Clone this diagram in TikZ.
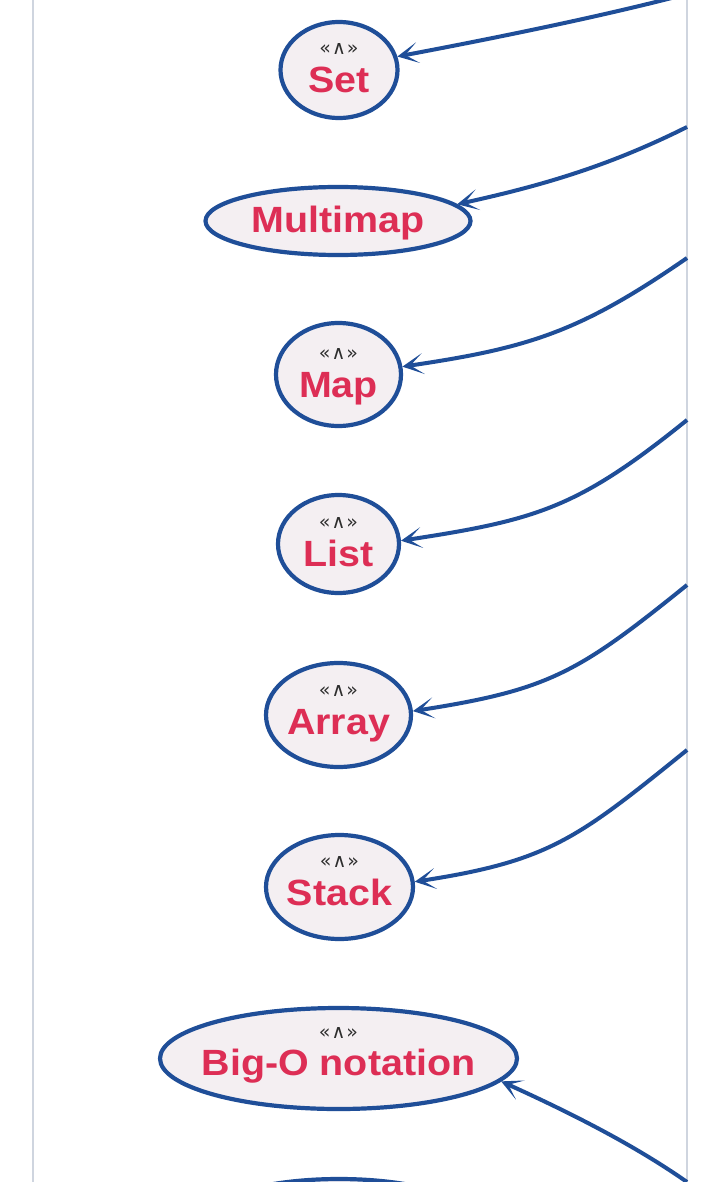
\documentclass[tikz,border=0pt]{standalone}
\usepackage{fontspec}
\setmainfont{Liberation Sans}
\newfontfamily\namefont[FakeStretch=1.08]{Liberation Sans}
\newfontfamily\dvsfont{DejaVu Sans}
\usetikzlibrary{arrows.meta,shapes.geometric,calc}
\definecolor{edgeblue}{HTML}{1F4E98}
\definecolor{nodefill}{HTML}{F4EFF2}
\definecolor{namered}{HTML}{DD2E55}
\definecolor{framegray}{HTML}{CFD5DF}
\definecolor{stereogray}{HTML}{2E2E2E}
\begin{document}
\begin{tikzpicture}[x=1pt,y=-1pt,
  cls/.style={ellipse, draw=edgeblue, line width=4.2pt, fill=nodefill, inner sep=0pt},
  stereo/.style={font=\dvsfont\fontsize{19}{19}\selectfont, text=stereogray, inner sep=0pt},
  cname/.style={font=\namefont\fontsize{36.5}{40}\selectfont\bfseries, text=namered, inner sep=0pt, anchor=base},
  rel/.style={draw=edgeblue, line width=4pt, -{Stealth[length=21pt,width=21pt,inset=13pt]}}]
\useasboundingbox (0,0) rectangle (720,1182);
\clip (0,0) rectangle (720,1182);
\fill[white] (0,0) rectangle (720,1182);
% frame
\draw[framegray, line width=1.5pt] (33,0) -- (33,1182);
\draw[framegray, line width=1.5pt] (687,0) -- (687,1182);
% class nodes
\node[cls, minimum width=117pt, minimum height=96pt] (set) at (339,70) {};
\node[stereo] (setS) at ($(set.center)+(0,-21)$) {«\kern1pt∧\kern1pt»};
\node[cname] (setN) at ($(set.center)+(0,23)$) {Set};

\node[cls, minimum width=265pt, minimum height=68pt] (mm) at (338,221) {};
\node[cname] (mmN) at ($(mm.center)+(0,12)$) {Multimap};

\node[cls, minimum width=125pt, minimum height=103pt] (map) at (338.5,374.5) {};
\node[stereo] (mapS) at ($(map.center)+(0,-21)$) {«\kern1pt∧\kern1pt»};
\node[cname] (mapN) at ($(map.center)+(0,23)$) {Map};

\node[cls, minimum width=121pt, minimum height=98pt] (list) at (338.5,544) {};
\node[stereo] (listS) at ($(list.center)+(0,-21)$) {«\kern1pt∧\kern1pt»};
\node[cname] (listN) at ($(list.center)+(0,22)$) {List};

\node[cls, minimum width=145pt, minimum height=104pt] (array) at (338.5,715) {};
\node[stereo] (arrayS) at ($(array.center)+(0,-24)$) {«\kern1pt∧\kern1pt»};
\node[cname] (arrayN) at ($(array.center)+(0,19)$) {Array};

\node[cls, minimum width=147pt, minimum height=104pt] (stack) at (339.5,887) {};
\node[stereo] (stackS) at ($(stack.center)+(0,-25)$) {«\kern1pt∧\kern1pt»};
\node[cname] (stackN) at ($(stack.center)+(0,18)$) {Stack};

\node[cls, minimum width=357pt, minimum height=101pt] (bigo) at (338.5,1058.5) {};
\node[stereo] (bigoS) at ($(bigo.center)+(0,-26)$) {«\kern1pt∧\kern1pt»};
\node[cname] (bigoN) at ($(bigo.center)+(0,17)$) {Big-O notation};

\node[cls, minimum width=300pt, minimum height=100pt] (next) at (339,1229) {};
% free ends of connectors at the frame
\coordinate (eSet) at (687,-6);
\coordinate (eMM) at (687,127);
\coordinate (eMap) at (687,258);
\coordinate (eList) at (687,420);
\coordinate (eArray) at (687,585);
\coordinate (eStack) at (687,750);
\coordinate (eBigo) at (687,1182);
% connectors
\draw[rel] (eSet) .. controls (600,17) and (485,40) .. (set.13);
\draw[rel] (eMM) .. controls (607,167) and (540,186) .. (mm.8);
\draw[rel] (eMap) .. controls (580,332) and (529,348) .. (map.7);
\draw[rel] (eList) .. controls (578,508) and (537,520) .. (list.3);
\draw[rel] (eArray) .. controls (578,673) and (549,690) .. (array.3);
\draw[rel] (eStack) .. controls (578,838) and (550,861) .. (stack.4);
\draw[rel] (eBigo) .. controls (630,1142) and (562,1109) .. (bigo.-8);
\end{tikzpicture}
\end{document}
